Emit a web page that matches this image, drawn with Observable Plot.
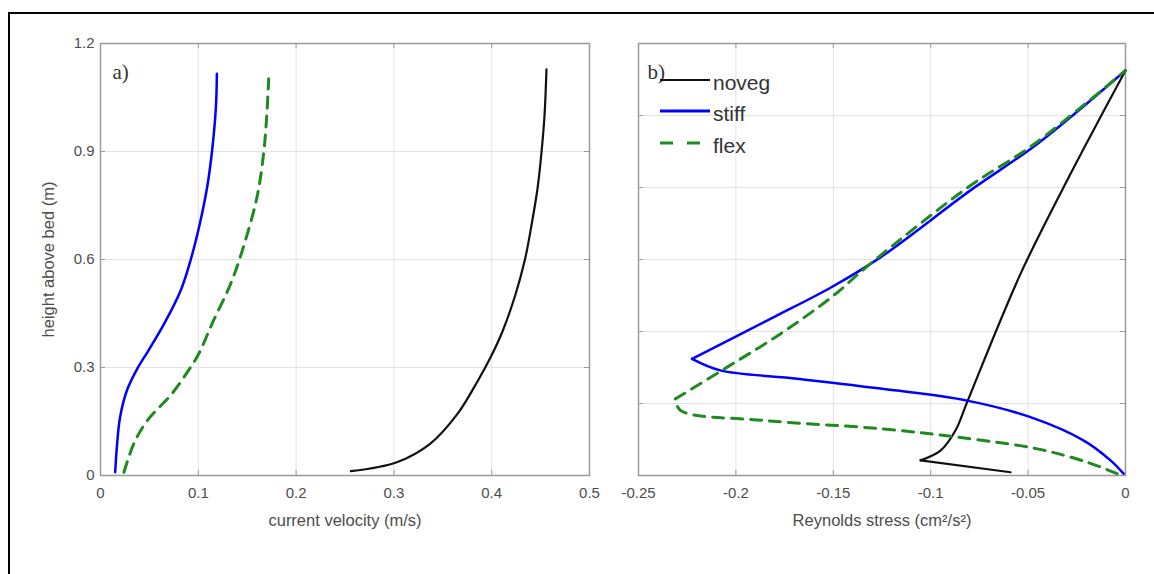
<!DOCTYPE html>
<html>
<head>
<meta charset="utf-8">
<script src="https://cdn.jsdelivr.net/npm/d3@7"></script>
<script src="https://cdn.jsdelivr.net/npm/@observablehq/plot@0.6"></script>
<style>
  html, body { margin: 0; padding: 0; background: #fff; overflow: hidden; }
  #wrap { position: relative; width: 1154px; height: 574px; overflow: hidden; }
  #border { position: absolute; left: 8px; top: 12px; width: 1170px; height: 590px; border: 2px solid #000; box-sizing: border-box; }
  .panel { position: absolute; top: 0; }
  #legend { position: absolute; left: 0; top: 0; pointer-events: none; }
</style>
</head>
<body>
<div id="wrap">
  <div id="border"></div>
  <div id="left" class="panel" style="left:0px"></div>
  <div id="right" class="panel" style="left:600px"></div>
</div>
<script>
// ---------- data ----------
const seriesNames = ["noveg", "stiff", "flex"];

// panel a) current velocity (m/s) vs height above bed (m)
const novegVelH = [0.012, 0.037, 0.088, 0.171, 0.264, 0.329, 0.40, 0.50, 0.60, 0.70, 0.80, 0.90, 1.00, 1.128];
const novegVel  = [0.256, 0.303, 0.337, 0.365, 0.386, 0.399, 0.411, 0.424, 0.434, 0.441, 0.447, 0.451, 0.454, 0.456];
const stiffVelH = [0.009, 0.088, 0.162, 0.236, 0.296, 0.347, 0.421, 0.514, 0.597, 0.70, 0.80, 0.90, 1.023, 1.116];
const stiffVel  = [0.015, 0.017, 0.020, 0.027, 0.0375, 0.049, 0.065, 0.082, 0.092, 0.1016, 0.109, 0.114, 0.118, 0.119];
const flexVelH  = [0.009, 0.088, 0.153, 0.227, 0.296, 0.338, 0.421, 0.532, 0.625, 0.773, 0.90, 1.00, 1.102];
const flexVel   = [0.024, 0.034, 0.048, 0.073, 0.091, 0.1005, 0.114, 0.133, 0.145, 0.160, 0.167, 0.170, 0.172];

// panel b) Reynolds stress (cm^2/s^2) vs height
const novegRSH = [0.009, 0.042, 0.069, 0.125, 0.204, 0.56, 0.838, 1.125];
const novegRS  = [-0.059, -0.1052, -0.095, -0.0873, -0.0813, -0.0539, -0.0282, 0];
const stiffRSH = [0.005, 0.042, 0.097, 0.162, 0.208, 0.243, 0.269, 0.292, 0.324, 0.44, 0.523, 0.606, 0.792, 0.921, 1.125];
const stiffRS  = [-0.001, -0.0077, -0.0214, -0.0488, -0.0813, -0.128, -0.1685, -0.208, -0.2225, -0.1805, -0.151, -0.1258, -0.0796, -0.0453, 0];
const flexRSH  = [0.005, 0.037, 0.074, 0.102, 0.13, 0.153, 0.181, 0.213, 0.301, 0.394, 0.495, 0.588, 0.80, 0.92, 1.125];
const flexRS   = [-0.0043, -0.0197, -0.0453, -0.0796, -0.1258, -0.1857, -0.2285, -0.231, -0.2045, -0.177, -0.151, -0.131, -0.081, -0.047, 0];

// ticks
const velTicks = [0, 0.1, 0.2, 0.3, 0.4, 0.5];
const velGrid = [0.1, 0.2, 0.3, 0.4];
const hTicksA = [0, 0.3, 0.6, 0.9, 1.2];
const hGridA = [0.3, 0.6, 0.9];
const rsTicks = [-0.25, -0.2, -0.15, -0.1, -0.05, 0];
const rsGrid = [-0.2, -0.15, -0.1, -0.05];
const hTicksB = [0, 0.2, 0.4, 0.6, 0.8, 1.0, 1.2];
const hGridB = [0.2, 0.4, 0.6, 0.8, 1.0];

const colors = {noveg: "#111111", stiff: "#0000ff", flex: "#1f8a1f"};

// split a profile into smooth pieces at its sharp turning points (local extrema of x)
function toRows(xs, hs) {
  const rows = [];
  let seg = 0;
  for (let i = 0; i < xs.length; i++) {
    rows.push({v: xs[i], h: hs[i], seg});
    if (i > 0 && i < xs.length - 1 && (xs[i] - xs[i - 1]) * (xs[i + 1] - xs[i]) < 0) {
      seg++;
      rows.push({v: xs[i], h: hs[i], seg});
    }
  }
  return rows;
}

// ---------- layout ----------
const H = 545, MT = 43, MB = 70;
const frameH = H - MT - MB;
const font = "'Liberation Sans', Arial, Helvetica, sans-serif";
const gridColor = "#e2e2e2", frameColor = "#9a9a9a", textColor = "#4d4d4d";

function frameTicks(xt, yt, fw) {
  return [
    Plot.ruleX(xt, {x: d => d, insetTop: frameH - 5, stroke: frameColor, strokeWidth: 1}),
    Plot.ruleX(xt, {x: d => d, insetBottom: frameH - 5, stroke: frameColor, strokeWidth: 1}),
    Plot.ruleY(yt, {y: d => d, insetRight: fw - 5, stroke: frameColor, strokeWidth: 1}),
    Plot.ruleY(yt, {y: d => d, insetLeft: fw - 5, stroke: frameColor, strokeWidth: 1})
  ];
}

function profile(xs, hs, name) {
  const opts = {x: "v", y: "h", z: "seg", stroke: colors[name], curve: "catmull-rom",
    strokeWidth: name === "noveg" ? 2.2 : name === "stiff" ? 2.5 : 3};
  if (name === "flex") opts.strokeDasharray = "11,8";
  return Plot.line(toRows(xs, hs), opts);
}

// ---------- panel a ----------
const wA = 600, mlA = 100, mrA = 11;
const plotA = Plot.plot({
  width: wA, height: H,
  marginLeft: mlA, marginRight: mrA, marginTop: MT, marginBottom: MB,
  style: {fontFamily: font, fontSize: "15px", color: textColor, background: "transparent", overflow: "visible"},
  x: {domain: [0, 0.5]},
  y: {domain: [0, 1.2]},
  marks: [
    Plot.ruleX(velGrid, {x: d => d, stroke: gridColor, strokeWidth: 1}),
    Plot.ruleY(hGridA, {y: d => d, stroke: gridColor, strokeWidth: 1}),
    ...frameTicks(velTicks, hTicksA, wA - mlA - mrA),
    Plot.frame({stroke: frameColor, strokeWidth: 1.5}),
    Plot.axisX({ticks: velTicks, tickSize: 0, tickPadding: 12, tickFormat: d => String(d), label: null, fill: textColor, fontSize: 15}),
    Plot.axisY({ticks: hTicksA, tickSize: 0, tickPadding: 6, tickFormat: d => String(d), label: null, fill: textColor, fontSize: 15}),
    profile(stiffVel, stiffVelH, "stiff"),
    profile(flexVel, flexVelH, "flex"),
    profile(novegVel, novegVelH, "noveg"),
    Plot.text(["a)"], {frameAnchor: "top-left", dx: 12, dy: 29, textAnchor: "start", lineAnchor: "middle", fontFamily: "'Liberation Serif', 'Times New Roman', serif", fontSize: 21, fill: "#333"}),
    Plot.text(["current velocity (m/s)"], {frameAnchor: "bottom", dy: 45, textAnchor: "middle", lineAnchor: "middle", fontSize: 16.5, fill: textColor}),
    Plot.text(["height above bed (m)"], {frameAnchor: "left", dx: -52, rotate: -90, textAnchor: "middle", lineAnchor: "middle", fontSize: 16.5, fill: textColor})
  ]
});
document.getElementById("left").appendChild(plotA);

// ---------- panel b ----------
const wB = 554, mlB = 38, mrB = 29;
const plotB = Plot.plot({
  width: wB, height: H,
  marginLeft: mlB, marginRight: mrB, marginTop: MT, marginBottom: MB,
  style: {fontFamily: font, fontSize: "15px", color: textColor, background: "transparent", overflow: "visible"},
  x: {domain: [-0.25, 0]},
  y: {domain: [0, 1.2], axis: null},
  marks: [
    Plot.ruleX(rsGrid, {x: d => d, stroke: gridColor, strokeWidth: 1}),
    Plot.ruleY(hGridB, {y: d => d, stroke: gridColor, strokeWidth: 1}),
    ...frameTicks(rsTicks, hTicksB, wB - mlB - mrB),
    Plot.frame({stroke: frameColor, strokeWidth: 1.5}),
    Plot.axisX({ticks: rsTicks, tickSize: 0, tickPadding: 12, tickFormat: d => String(d), label: null, fill: textColor, fontSize: 15}),
    profile(novegRS, novegRSH, "noveg"),
    profile(stiffRS, stiffRSH, "stiff"),
    profile(flexRS, flexRSH, "flex"),
    Plot.text(["b)"], {frameAnchor: "top-left", dx: 9, dy: 29, textAnchor: "start", lineAnchor: "middle", fontFamily: "'Liberation Serif', 'Times New Roman', serif", fontSize: 21, fill: "#333"}),
    Plot.text(["Reynolds stress (cm²/s²)"], {frameAnchor: "bottom", dy: 45, textAnchor: "middle", lineAnchor: "middle", fontSize: 16.5, fill: textColor})
  ]
});
document.getElementById("right").appendChild(plotB);

// ---------- legend (in panel b) ----------
const leg = d3.select("#wrap").append("svg").attr("id", "legend").attr("width", 1154).attr("height", 574);
const legendY = [80, 111, 143];
const legendDash = {noveg: null, stiff: null, flex: "13,14"};
const legendW = {noveg: 2, stiff: 3, flex: 3};
seriesNames.forEach((name, i) => {
  leg.append("line").attr("x1", 660).attr("x2", 710).attr("y1", legendY[i]).attr("y2", legendY[i])
    .attr("stroke", colors[name]).attr("stroke-width", legendW[name])
    .attr("stroke-dasharray", legendDash[name]);
  leg.append("text").attr("x", 713).attr("y", legendY[i] + 3).attr("dy", "0.35em")
    .attr("font-family", font).attr("font-size", 21).attr("fill", "#333").text(name);
});
</script>
</body>
</html>
